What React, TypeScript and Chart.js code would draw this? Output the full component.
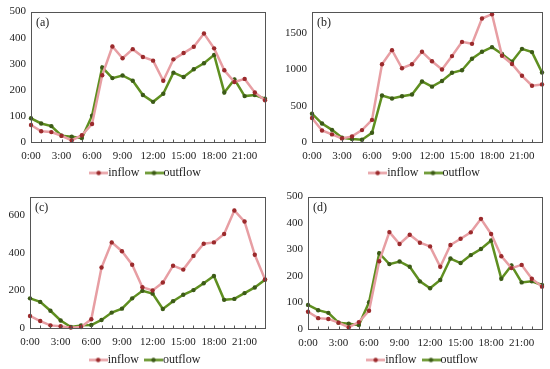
import React, { useEffect, useRef } from "react";
import { Chart, registerables } from "chart.js";

Chart.register(...registerables);

const hours = [
  "0:00", "1:00", "2:00", "3:00", "4:00", "5:00", "6:00", "7:00", "8:00", "9:00", "10:00", "11:00",
  "12:00", "13:00", "14:00", "15:00", "16:00", "17:00", "18:00", "19:00", "20:00", "21:00", "22:00", "23:00",
];

const inflowA = [65, 41, 38, 24, 6, 26, 69, 256, 366, 321, 356, 326, 312, 235, 317, 341, 365, 416, 359, 275, 230, 242, 190, 160];
const outflowA = [91, 71, 61, 24, 20, 15, 101, 286, 245, 255, 235, 180, 154, 185, 266, 249, 279, 302, 334, 190, 240, 176, 180, 166];
const yTicksA = [0, 100, 200, 300, 400, 500];

const inflowB = [332, 159, 105, 50, 77, 164, 305, 1073, 1268, 1018, 1073, 1245, 1114, 1000, 1186, 1382, 1355, 1705, 1764, 1191, 1077, 914, 777, 795];
const outflowB = [391, 255, 168, 59, 41, 32, 127, 641, 600, 632, 655, 836, 764, 841, 955, 991, 1150, 1245, 1309, 1214, 1109, 1286, 1241, 959];
const yTicksB = [0, 500, 1000, 1500];

const inflowC = [64, 37, 14, 9, 2, 5, 47, 322, 456, 409, 337, 217, 200, 242, 332, 311, 384, 449, 456, 501, 626, 567, 390, 259];
const outflowC = [158, 139, 92, 40, 5, 14, 16, 43, 82, 103, 158, 198, 183, 101, 143, 177, 202, 238, 277, 150, 155, 186, 216, 257];
const yTicksC = [0, 200, 400, 600];

const inflowD = [65, 41, 38, 24, 6, 26, 69, 256, 366, 321, 356, 326, 312, 235, 317, 341, 365, 416, 359, 275, 230, 242, 190, 160];
const outflowD = [91, 71, 61, 24, 20, 15, 101, 286, 245, 255, 235, 180, 154, 185, 266, 249, 279, 302, 334, 190, 240, 176, 180, 166];
const yTicksD = [0, 100, 200, 300, 400, 500];

const seriesNames = ["inflow", "outflow"];

const IN_LINE = "#e79ea3";
const IN_DOT = "#9b2a2c";
const OUT_LINE = "#5f8f20";
const OUT_DOT = "#3c5a17";
const FONT = "'Liberation Serif', 'Times New Roman', serif";
const TEXT = "#222222";
const LEGEND_H = 34;

function legendImage(line: string, dot: string) {
  const c = document.createElement("canvas");
  c.width = 19;
  c.height = 7;
  const ctx = c.getContext("2d")!;
  ctx.strokeStyle = line;
  ctx.lineWidth = 2.5;
  ctx.beginPath();
  ctx.moveTo(0, 3.5);
  ctx.lineTo(19, 3.5);
  ctx.stroke();
  ctx.fillStyle = dot;
  ctx.beginPath();
  ctx.arc(9.5, 3.5, 2.2, 0, Math.PI * 2);
  ctx.fill();
  return c;
}

type PanelProps = {
  left: number;
  top: number;
  width: number;
  height: number;
  label: string;
  inflow: number[];
  outflow: number[];
  yMax: number;
  yTicks: number[];
  legendY: number;
  area: { l: number; t: number; r: number; b: number };
};

function Panel(p: PanelProps) {
  const ref = useRef<HTMLCanvasElement>(null);
  useEffect(() => {
    if (!ref.current) return;
    const imgs = [legendImage(IN_LINE, IN_DOT), legendImage(OUT_LINE, OUT_DOT)];
    const padBottom = p.height - p.legendY - LEGEND_H / 2;
    const xHeight = p.height - padBottom - LEGEND_H - p.area.b;
    const deco = {
      id: "deco",
      afterLayout(chart: any) {
        chart.scales.x.bottom = chart.height;
      },
      afterDraw(chart: any) {
        const { ctx, chartArea } = chart;
        const x = chart.scales.x;
        ctx.save();
        ctx.strokeStyle = "#555555";
        ctx.lineWidth = 1;
        const L = Math.round(chartArea.left) + 0.5;
        const R = Math.round(chartArea.right) + 0.5;
        const T = Math.round(chartArea.top) + 0.5;
        const B = Math.round(chartArea.bottom) + 0.5;
        ctx.strokeRect(L, T, R - L, B - T);
        ctx.beginPath();
        for (let i = 0; i < hours.length; i++) {
          const px = Math.round(x.getPixelForValue(i)) + 0.5;
          ctx.moveTo(px, B);
          ctx.lineTo(px, B - 3);
        }
        ctx.stroke();
        ctx.fillStyle = TEXT;
        ctx.font = `12px ${FONT}`;
        ctx.textBaseline = "middle";
        ctx.fillText(p.label, chartArea.left + 5, chartArea.top + 11);
        ctx.restore();
      },
    };
    const chart = new Chart(ref.current, {
      type: "line",
      data: {
        labels: hours,
        datasets: [
          {
            label: seriesNames[0],
            data: p.inflow,
            borderColor: IN_LINE,
            backgroundColor: IN_DOT,
            pointBackgroundColor: IN_DOT,
            pointBorderColor: IN_DOT,
            borderWidth: 2.5,
            pointRadius: 2.2,
            pointBorderWidth: 0,
            tension: 0,
            clip: false as any,
          },
          {
            label: seriesNames[1],
            data: p.outflow,
            borderColor: OUT_LINE,
            backgroundColor: OUT_DOT,
            pointBackgroundColor: OUT_DOT,
            pointBorderColor: OUT_DOT,
            borderWidth: 2.5,
            pointRadius: 2.2,
            pointBorderWidth: 0,
            tension: 0,
            clip: false as any,
          },
        ],
      },
      options: {
        responsive: false,
        animation: false,
        events: [],
        layout: { padding: { left: 0, top: p.area.t, right: p.width - p.area.r, bottom: padBottom } },
        scales: {
          x: {
            offset: false,
            grid: { display: false, drawTicks: false },
            border: { display: false },
            ticks: {
              autoSkip: false,
              maxRotation: 0,
              minRotation: 0,
              padding: 8,
              color: TEXT,
              font: { family: FONT, size: 11 },
              callback: (_v: any, i: number) => (i % 3 === 0 ? hours[i] : ""),
            },
            afterFit: (s: any) => {
              s.height = xHeight;
            },
          },
          y: {
            min: 0,
            max: p.yMax,
            grid: { display: false, drawTicks: false },
            border: { display: false },
            ticks: {
              padding: 5,
              color: TEXT,
              font: { family: FONT, size: 11 },
              callback: (v: any) => String(v),
            },
            afterBuildTicks: (s: any) => {
              s.ticks = p.yTicks.map((v) => ({ value: v }));
            },
            afterFit: (s: any) => {
              s.width = p.area.l;
            },
          },
        },
        plugins: {
          tooltip: { enabled: false },
          legend: {
            position: "bottom",
            fullSize: false,
            labels: {
              usePointStyle: true,
              pointStyleWidth: 7,
              padding: 11,
              color: TEXT,
              font: { family: FONT, size: 12 },
              generateLabels: (chart: any) =>
                Chart.defaults.plugins.legend.labels.generateLabels(chart).map((l: any, i: number) => ({
                  ...l,
                  pointStyle: imgs[i],
                  fontColor: TEXT,
                })),
            },
          },
        },
      },
      plugins: [deco],
    });
    return () => chart.destroy();
  }, []);
  return (
    <div style={{ position: "absolute", left: p.left, top: p.top, width: p.width, height: p.height }}>
      <canvas ref={ref} width={p.width} height={p.height} style={{ display: "block" }} />
    </div>
  );
}

export default function App() {
  return (
    <div style={{ position: "fixed", left: 0, top: 0, width: 550, height: 369, background: "#ffffff", overflow: "hidden" }}>
      <Panel left={0} top={0} width={275} height={185} label="(a)" inflow={inflowA} outflow={outflowA} yMax={500} yTicks={yTicksA}
        legendY={172} area={{ l: 31, t: 9, r: 265, b: 141 }} />
      <Panel left={275} top={0} width={275} height={185} label="(b)" inflow={inflowB} outflow={outflowB} yMax={1800} yTicks={yTicksB}
        legendY={172} area={{ l: 37, t: 8, r: 269, b: 141 }} />
      <Panel left={0} top={185} width={275} height={184} label="(c)" inflow={inflowC} outflow={outflowC} yMax={700} yTicks={yTicksC}
        legendY={174} area={{ l: 30, t: 10, r: 265, b: 142 }} />
      <Panel left={275} top={185} width={275} height={184} label="(d)" inflow={inflowD} outflow={outflowD} yMax={500} yTicks={yTicksD}
        legendY={174} area={{ l: 33, t: 10, r: 269, b: 143 }} />
    </div>
  );
}
